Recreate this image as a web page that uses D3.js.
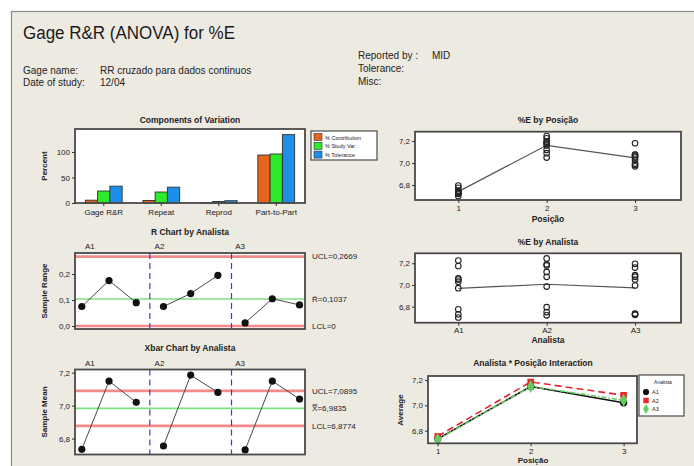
<!DOCTYPE html>
<html><head><meta charset="utf-8">
<script src="https://cdn.jsdelivr.net/npm/d3@7"></script>
<style>
html,body{margin:0;padding:0;background:#fff;}
svg{display:block;font-family:"Liberation Sans",Arial,sans-serif;}
</style></head><body>
<svg id="c" width="694" height="466"></svg>
<script>
// ---------------- data ----------------
const components = ["Gage R&R", "Repeat", "Reprod", "Part-to-Part"];
const componentSeries = ["% Contribution", "% Study Var", "% Tolerance"];
const pctContribution = [5.5, 4.8, 0.3, 94.0];
const pctStudyVar = [23.5, 21.5, 3.0, 96.0];
const pctTolerance = [33.0, 31.0, 4.5, 134.0];
const componentTicks = [0, 50, 100];

const analysts = ["A1", "A2", "A3"];
const positions = [1, 2, 3];
const sampleRanges = [0.075, 0.175, 0.090, 0.075, 0.125, 0.195, 0.012, 0.105, 0.081];
const sampleMeans = [6.735, 7.149, 7.020, 6.755, 7.185, 7.080, 6.731, 7.149, 7.040];
const rLimitValues = [0.2669, 0.1037, 0];
const rLimitLabels = ["UCL=0,2669", "R\u0304=0,1037", "LCL=0"];
const xbarLimitValues = [7.0895, 6.9835, 6.8774];
const xbarLimitLabels = ["UCL=7,0895", "X\u033F=6,9835", "LCL=6,8774"];
const rTicks = [0.0, 0.1, 0.2];
const meanTicks = [6.8, 7.0, 7.2];
// individual measurements (3 replicates per position, positions 1,2,3)
const measA1 = [6.700, 6.730, 6.775, 7.050, 7.175, 7.225, 6.970, 7.030, 7.060];
const measA2 = [6.720, 6.750, 6.795, 7.120, 7.190, 7.245, 6.985, 7.075, 7.180];
const measA3 = [6.725, 6.731, 6.737, 7.090, 7.160, 7.195, 6.995, 7.050, 7.076];

// ---------------- helpers ----------------
const svg = d3.select("#c");
const fmt1 = d => d3.format(".1f")(d).replace(".", ",");
const FRAME = "#4a4a4a";
const bg = "#EDEAE2";

svg.append("rect").attr("x", 0).attr("y", 0).attr("width", 694).attr("height", 466).attr("fill", "#fff");
svg.append("rect").attr("x", 11.5).attr("y", 11.5).attr("width", 700).attr("height", 470)
  .attr("fill", bg).attr("stroke", "#8c8c8c").attr("stroke-width", 1.2);

function txt(x, y, s, o = {}) {
  const t = svg.append("text").attr("x", x).attr("y", y).text(s)
    .attr("font-size", o.size || 8).attr("fill", o.fill || "#222")
    .attr("text-anchor", o.anchor || "start");
  if (o.bold) t.attr("font-weight", "bold");
  if (o.rotate) t.attr("transform", `rotate(-90,${x},${y})`);
  if (o.dy) t.attr("dy", o.dy);
  if (o.len) t.attr("textLength", o.len).attr("lengthAdjust", "spacingAndGlyphs");
  return t;
}
function plotArea(f) {
  svg.append("rect").attr("x", f.x0).attr("y", f.y0).attr("width", f.x1 - f.x0).attr("height", f.y1 - f.y0)
    .attr("fill", "#fff");
}
function frame(f) {
  svg.append("rect").attr("x", f.x0).attr("y", f.y0).attr("width", f.x1 - f.x0).attr("height", f.y1 - f.y0)
    .attr("fill", "none").attr("stroke", FRAME).attr("stroke-width", 1.8);
}
function leftAxis(f, y, ticks, format) {
  const g = svg.append("g").attr("transform", `translate(${f.x0},0)`)
    .call(d3.axisLeft(y).tickValues(ticks).tickFormat(format).tickSize(3).tickPadding(2));
  g.select(".domain").remove();
  g.selectAll("line").attr("stroke", "#333");
  g.selectAll("text").attr("font-size", 8).attr("fill", "#222").attr("font-family", "Liberation Sans, Arial, sans-serif");
}
function bottomAxis(f, x, ticks, format) {
  const g = svg.append("g").attr("transform", `translate(0,${f.y1})`)
    .call(d3.axisBottom(x).tickValues(ticks).tickFormat(format).tickSize(3).tickPadding(2));
  g.select(".domain").remove();
  g.selectAll("line").attr("stroke", "#333");
  g.selectAll("text").attr("font-size", 8).attr("fill", "#222").attr("font-family", "Liberation Sans, Arial, sans-serif");
}

// ---------------- header ----------------
txt(23, 39, "Gage R&R (ANOVA) for %E", { size: 18, fill: "#1a1a1a", len: 212 });
txt(23, 74, "Gage name:", { size: 10 });
txt(100, 74, "RR cruzado para dados continuos", { size: 10 });
txt(23, 86, "Date of study:", { size: 10 });
txt(100, 86, "12/04", { size: 10 });
txt(358, 59, "Reported by :", { size: 10 });
txt(432, 59, "MID", { size: 10 });
txt(358, 72, "Tolerance:", { size: 10 });
txt(358, 85, "Misc:", { size: 10 });

// ---------------- Components of Variation ----------------
{
  const f = { x0: 75, x1: 305, y0: 129, y1: 203 };
  plotArea(f);
  const x = d3.scaleBand().domain(components).range([f.x0, f.x1]).padding(0);
  const xi = d3.scaleBand().domain(componentSeries).range([0, x.bandwidth() * 0.64]);
  const y = d3.scaleLinear().domain([0, 145]).range([f.y1, f.y0]);
  const colors = ["#E8641C", "#2CEB2C", "#1E8FE8"];
  const series = [pctContribution, pctStudyVar, pctTolerance];
  series.forEach((vals, si) => {
    svg.append("g").selectAll("rect").data(vals).join("rect")
      .attr("x", (d, i) => x(components[i]) + x.bandwidth() * 0.18 + xi(componentSeries[si]))
      .attr("width", xi.bandwidth())
      .attr("y", d => y(d)).attr("height", d => f.y1 - y(d))
      .attr("fill", colors[si]).attr("stroke", "#303030").attr("stroke-width", 0.9);
  });
  frame(f);
  leftAxis(f, y, componentTicks, d3.format("d"));
  const g = svg.append("g").attr("transform", `translate(0,${f.y1})`)
    .call(d3.axisBottom(x).tickSize(3).tickPadding(3));
  g.select(".domain").remove();
  g.selectAll("line").attr("stroke", "#333");
  g.selectAll("text").attr("font-size", 8).attr("fill", "#222").attr("font-family", "Liberation Sans, Arial, sans-serif");
  txt(190, 123, "Components of Variation", { size: 8.5, bold: true, anchor: "middle" });
  txt(47, 166, "Percent", { size: 8, bold: true, anchor: "middle", rotate: true });
  // legend
  svg.append("rect").attr("x", 311).attr("y", 131).attr("width", 66).attr("height", 29)
    .attr("fill", "#fff").attr("stroke", FRAME).attr("stroke-width", 1.2);
  componentSeries.forEach((s, i) => {
    svg.append("rect").attr("x", 314).attr("y", 133.5 + i * 8.8).attr("width", 8).attr("height", 7)
      .attr("fill", colors[i]).attr("stroke", "#303030").attr("stroke-width", 0.6);
    txt(325, 139.5 + i * 8.8, s, { size: 5.5 });
  });
}

// ---------------- control chart helper ----------------
function controlChart(f, yDomain, values, limits, limitLabels, ticks, title, ylabel, titleY) {
  plotArea(f);
  const x = d3.scaleLinear().domain([0.75, 9.2]).range([f.x0, f.x1]);
  const y = d3.scaleLinear().domain(yDomain).range([f.y1, f.y0]);
  limits.forEach((v, i) => {
    svg.append("line").attr("x1", f.x0).attr("x2", f.x1).attr("y1", y(v)).attr("y2", y(v))
      .attr("stroke", i === 1 ? "#7FE07F" : "#F28A8A").attr("stroke-width", i === 1 ? 1.6 : 2.6);
    txt(f.x1 + 7, y(v), limitLabels[i], { size: 8, dy: "0.35em" });
  });
  [3.5, 6.5].forEach(v => {
    svg.append("line").attr("x1", x(v)).attr("x2", x(v)).attr("y1", f.y0).attr("y2", f.y1)
      .attr("stroke", "#3B3BD0").attr("stroke-width", 1.2).attr("stroke-dasharray", "6,4");
  });
  analysts.forEach((a, k) => {
    const pts = values.slice(k * 3, k * 3 + 3).map((v, j) => [x(k * 3 + j + 1), y(v)]);
    svg.append("path").attr("d", d3.line()(pts)).attr("fill", "none").attr("stroke", "#4a4a4a").attr("stroke-width", 1);
    svg.append("g").selectAll("circle").data(pts).join("circle")
      .attr("cx", d => d[0]).attr("cy", d => d[1]).attr("r", 3.6).attr("fill", "#111");
    const dx = [8, -4, -5][k];
    txt(x(k * 3 + 1) + dx, f.y0 - 4, a, { size: 8, anchor: "middle" });
  });
  frame(f);
  leftAxis(f, y, ticks, fmt1);
  txt(190, titleY, title, { size: 8.5, bold: true, anchor: "middle" });
  txt(47, (f.y0 + f.y1) / 2, ylabel, { size: 8, bold: true, anchor: "middle", rotate: true });
}

controlChart({ x0: 75, x1: 305, y0: 253, y1: 329 }, [-0.0115, 0.281], sampleRanges,
  rLimitValues, rLimitLabels, rTicks, "R Chart by Analista", "Sample Range", 235);
controlChart({ x0: 75, x1: 305, y0: 369.5, y1: 454.5 }, [6.7035, 7.219], sampleMeans,
  xbarLimitValues, xbarLimitLabels, meanTicks, "Xbar Chart by Analista", "Sample Mean", 351);

// ---------------- %E by Posição ----------------
const allMeas = [measA1, measA2, measA3];
{
  const f = { x0: 415, x1: 681, y0: 131.7, y1: 200 };
  plotArea(f);
  const x = d3.scaleLinear().domain([0.51, 3.52]).range([f.x0, f.x1]);
  const y = d3.scaleLinear().domain([6.664, 7.285]).range([f.y1, f.y0]);
  const pts = [];
  allMeas.forEach(m => m.forEach((v, i) => pts.push([positions[Math.floor(i / 3)], v])));
  const means = positions.map(p => d3.mean(pts.filter(d => d[0] === p), d => d[1]));
  svg.append("path").attr("d", d3.line()(means.map((m, i) => [x(positions[i]), y(m)])))
    .attr("fill", "none").attr("stroke", "#555").attr("stroke-width", 1.2);
  svg.append("g").selectAll("circle").data(pts).join("circle")
    .attr("cx", d => x(d[0])).attr("cy", d => y(d[1])).attr("r", 2.8)
    .attr("fill", "none").attr("stroke", "#222").attr("stroke-width", 1.1);
  frame(f);
  leftAxis(f, y, meanTicks, fmt1);
  bottomAxis(f, x, positions, d3.format("d"));
  txt(548, 123, "%E by Posição", { size: 8.5, bold: true, anchor: "middle" });
  txt(548, 222, "Posição", { size: 8.5, bold: true, anchor: "middle" });
}

// ---------------- %E by Analista ----------------
{
  const f = { x0: 415, x1: 681, y0: 253.3, y1: 322.7 };
  plotArea(f);
  const x = d3.scaleLinear().domain([0.51, 3.52]).range([f.x0, f.x1]);
  const y = d3.scaleLinear().domain([6.652, 7.292]).range([f.y1, f.y0]);
  const pts = [];
  allMeas.forEach((m, k) => m.forEach(v => pts.push([k + 1, v])));
  const means = allMeas.map(m => d3.mean(m));
  svg.append("path").attr("d", d3.line()(means.map((m, i) => [x(i + 1), y(m)])))
    .attr("fill", "none").attr("stroke", "#555").attr("stroke-width", 1.2);
  svg.append("g").selectAll("circle").data(pts).join("circle")
    .attr("cx", d => x(d[0])).attr("cy", d => y(d[1])).attr("r", 2.8)
    .attr("fill", "none").attr("stroke", "#222").attr("stroke-width", 1.1);
  frame(f);
  leftAxis(f, y, meanTicks, fmt1);
  bottomAxis(f, x, [1, 2, 3], d => analysts[d - 1]);
  txt(548, 245, "%E by Analista", { size: 8.5, bold: true, anchor: "middle" });
  txt(548, 343, "Analista", { size: 8.5, bold: true, anchor: "middle" });
}

// ---------------- Interaction ----------------
{
  const f = { x0: 428, x1: 637, y0: 376, y1: 443.3 };
  plotArea(f);
  const x = d3.scaleLinear().domain([0.896, 3.144]).range([f.x0, f.x1]);
  const y = d3.scaleLinear().domain([6.70, 7.232]).range([f.y1, f.y0]);
  const styles = [
    { color: "#111", dash: null, sym: d3.symbolCircle, size: 42 },
    { color: "#E8262C", dash: "7,4", sym: d3.symbolSquare, size: 42 },
    { color: "#66CC5E", dash: "5,2,1.5,2", sym: d3.symbolDiamond, size: 48 }
  ];
  analysts.forEach((a, k) => {
    const pts = sampleMeans.slice(k * 3, k * 3 + 3).map((v, j) => [x(positions[j]), y(v)]);
    const p = svg.append("path").attr("d", d3.line()(pts)).attr("fill", "none")
      .attr("stroke", styles[k].color).attr("stroke-width", 1.6);
    if (styles[k].dash) p.attr("stroke-dasharray", styles[k].dash);
    svg.append("g").selectAll("path").data(pts).join("path")
      .attr("transform", d => `translate(${d[0]},${d[1]})`)
      .attr("d", d3.symbol(styles[k].sym, styles[k].size)).attr("fill", styles[k].color);
  });
  frame(f);
  leftAxis(f, y, meanTicks, fmt1);
  bottomAxis(f, x, positions, d3.format("d"));
  txt(533, 366, "Analista * Posição Interaction", { size: 8.5, bold: true, anchor: "middle" });
  txt(533, 463, "Posição", { size: 8, bold: true, anchor: "middle" });
  txt(403, 410, "Average", { size: 8, bold: true, anchor: "middle", rotate: true });
  svg.append("rect").attr("x", 639).attr("y", 375).attr("width", 45).attr("height", 41)
    .attr("fill", "#fff").attr("stroke", FRAME).attr("stroke-width", 1.2);
  txt(663, 384, "Analista", { size: 5, anchor: "middle" });
  analysts.forEach((a, k) => {
    svg.append("path").attr("transform", `translate(646,${392 + k * 8.5})`)
      .attr("d", d3.symbol(styles[k].sym, 30)).attr("fill", styles[k].color);
    txt(652, 394 + k * 8.5, a, { size: 5.5 });
  });
}
</script>
</body></html>
